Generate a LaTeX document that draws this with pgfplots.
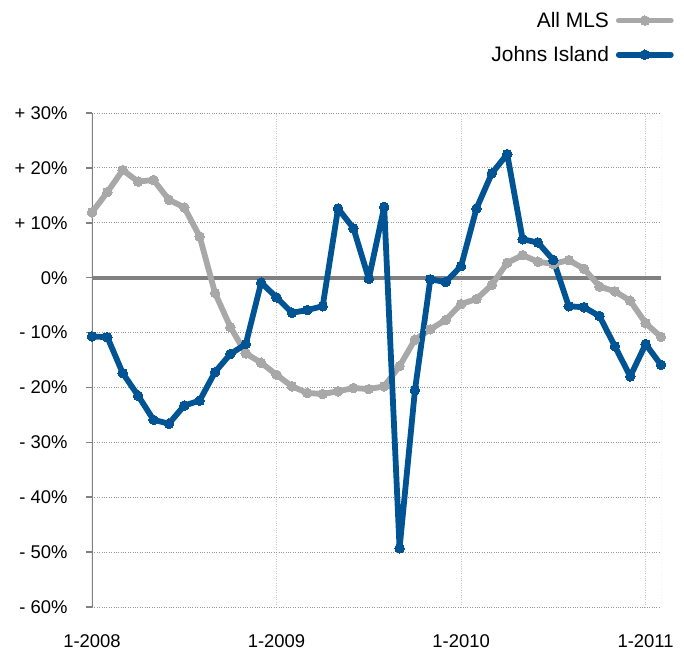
\documentclass[border=0pt]{standalone}
\usepackage{pgfplots}
\pgfplotsset{compat=1.18}
\usepackage{fontspec}
\setmainfont{Liberation Sans}

\definecolor{jiblue}{RGB}{0,84,147}
\definecolor{mlsgray}{RGB}{168,168,168}
\definecolor{axgray}{RGB}{128,128,128}
\definecolor{gridgray}{RGB}{150,150,150}
\definecolor{vgridgray}{RGB}{200,200,200}

% month index 0 = 1-2008
\pgfplotstableread{
m val
0 11.9
1 15.6
2 19.6
3 17.5
4 17.8
5 14.2
6 12.8
7 7.5
8 -2.8
9 -9.0
10 -13.8
11 -15.5
12 -17.7
13 -19.8
14 -21.0
15 -21.2
16 -20.7
17 -20.1
18 -20.3
19 -19.8
20 -16.1
21 -11.3
22 -9.4
23 -7.7
24 -4.8
25 -3.9
26 -1.3
27 2.7
28 4.1
29 2.9
30 2.5
31 3.2
32 1.6
33 -1.6
34 -2.5
35 -4.2
36 -8.3
37 -10.8
}\allmls

\pgfplotstableread{
m val
0 -10.7
1 -10.85
2 -17.4
3 -21.5
4 -25.9
5 -26.6
6 -23.3
7 -22.4
8 -17.2
9 -13.9
10 -12.1
11 -0.9
12 -3.6
13 -6.4
14 -5.9
15 -5.2
16 12.6
17 9.0
18 -0.2
19 12.9
20 -49.3
21 -20.5
22 -0.3
23 -0.8
24 2.1
25 12.6
26 19.0
27 22.5
28 7.0
29 6.4
30 3.2
31 -5.2
32 -5.4
33 -7.0
34 -12.5
35 -18.0
36 -12.1
37 -15.9
}\johns

\begin{document}
\begin{tikzpicture}
\begin{axis}[
  name=ax,
  scale only axis,
  width=569bp, height=494bp,
  xmin=0, xmax=37,
  ymin=-60, ymax=30,
  axis line style={draw=none},
  xtick={0,12,24,36},
  xticklabels={1-2008,1-2009,1-2010,1-2011},
  xtick style={draw=none},
  ytick={-60,-50,...,30},
  yticklabels={- 60\%,- 50\%,- 40\%,- 30\%,- 20\%,- 10\%,0\%,+ 10\%,+ 20\%,+ 30\%},
  ytick pos=left,
  ytick align=outside,
  major tick length=6bp,
  ytick style={axgray, line width=1.5bp},
  ticklabel style={font=\fontsize{18.5}{22}\selectfont},
  xticklabel style={yshift=-24bp},
  yticklabel style={xshift=-15bp},
  ymajorgrids, xmajorgrids,
  y grid style={gridgray, dotted, line width=0.8bp},
  x grid style={vgridgray, dotted, line width=0.8bp},
  legend style={at={(1.0227,1.2085)}, anchor=north east, draw=none, fill=none,
    font=\fontsize{21}{25}\selectfont, row sep=13.5bp, column sep=5bp, inner sep=0pt},
  legend cell align=right,
  legend plot pos=right,
  legend image code/.code={
    \draw[#1, mark repeat=2, mark phase=2] plot coordinates {(0bp,0bp) (26bp,0bp) (52bp,0bp)};
  },
  every axis plot/.append style={line width=5.8bp, line join=round, line cap=round,
    mark=*, mark size=4.8bp, mark options={solid, line width=0pt}},
]
\draw[gridgray, dotted, line width=0.8bp] (axis cs:37,-60) -- (axis cs:37,30);
\draw[axgray, line width=4bp] (axis cs:0,0) -- (axis cs:37,0);
\draw[axgray, line width=3bp] (axis cs:0,-60) -- (axis cs:0,30);
\addplot[mlsgray] table[x=m, y=val] {\allmls};
\addlegendentry{All MLS}
\addplot[jiblue] table[x=m, y=val] {\johns};
\addlegendentry{Johns Island}
\end{axis}
\path ([shift={(-92bp,-41bp)}]ax.south west) rectangle ([shift={(23bp,113bp)}]ax.north east);
\end{tikzpicture}
\end{document}
